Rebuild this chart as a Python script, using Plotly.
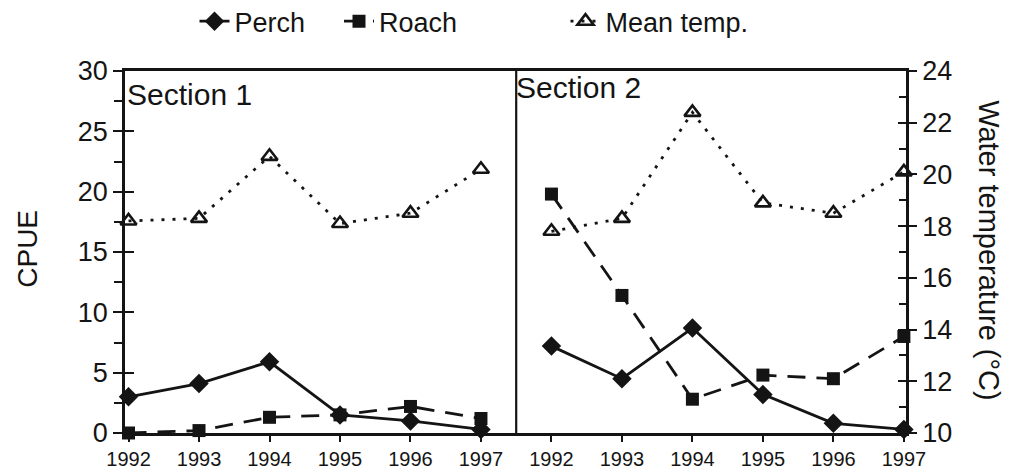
import plotly.graph_objects as go

years = [1992, 1993, 1994, 1995, 1996, 1997]
year_labels = [str(y) for y in years]

# Section 1
s1_perch = [3.0, 4.1, 5.9, 1.5, 1.0, 0.3]
s1_roach = [0.0, 0.2, 1.3, 1.5, 2.2, 1.2]
s1_temp = [18.2, 18.3, 20.7, 18.1, 18.5, 20.2]
# Section 2
s2_perch = [7.2, 4.5, 8.7, 3.2, 0.8, 0.3]
s2_roach = [19.8, 11.4, 2.8, 4.8, 4.5, 8.0]
s2_temp = [17.8, 18.3, 22.4, 18.9, 18.5, 20.1]

FONT = "Liberation Sans, Arial, sans-serif"
INK = "#141414"

x1 = [y - years[0] for y in years]
x2 = [y - years[0] + len(years) for y in years]
tickvals = x1 + x2
ticktext = year_labels + year_labels

fig = go.Figure()

def add(x, y, name, dash, symbol, size, yaxis, legend, show):
    open_sym = symbol.endswith("open")
    fig.add_trace(go.Scatter(
        x=x, y=y, name=name, mode="lines+markers", yaxis=yaxis,
        legend=legend, showlegend=show, legendgroup=name,
        line=dict(color=INK, width=2.8, dash=dash),
        marker=dict(symbol=symbol, size=size, color=INK,
                    line=dict(color=INK, width=2.6 if open_sym else 0)),
        cliponaxis=False,
    ))

for xs, perch, roach, temp, show in [(x1, s1_perch, s1_roach, s1_temp, True),
                                      (x2, s2_perch, s2_roach, s2_temp, False)]:
    add(xs, temp, "Mean temp.", "3px,8px", "triangle-up-open", 14, "y2", "legend3", show)
    add(xs, roach, "Roach", "18px,11px", "square", 13, "y", "legend2", show)
    add(xs, perch, "Perch", "solid", "diamond", 15, "y", "legend", show)

leg_common = dict(orientation="h", yanchor="top", xanchor="left",
                  font=dict(family=FONT, size=27, color=INK),
                  bgcolor="rgba(0,0,0,0)", itemwidth=30)

fig.update_layout(
    width=1011, height=474,
    margin=dict(l=117, r=113, t=63, b=49, autoexpand=False),
    paper_bgcolor="white", plot_bgcolor="white",
    font=dict(family=FONT, color=INK),
    legend=dict(x=0.089, y=1.204, **leg_common),
    legend2=dict(x=0.274, y=1.204, **leg_common),
    legend3=dict(x=0.564, y=1.204, **leg_common),
    xaxis=dict(range=[-0.05, 11.03], tickvals=tickvals, ticktext=ticktext,
               showline=True, linecolor=INK, linewidth=2.6, mirror=True,
               ticks="outside", ticklen=6, tickwidth=1.5, tickcolor=INK,
               showgrid=False, zeroline=False,
               tickfont=dict(family=FONT, size=20, color=INK)),
    yaxis=dict(range=[0, 30], tickvals=[0, 5, 10, 15, 20, 25, 30],
               showline=True, linecolor=INK, linewidth=2.6,
               ticks="outside", ticklen=9, tickwidth=1.8, tickcolor=INK,
               minor=dict(tickvals=[2.5, 7.5, 12.5, 17.5, 22.5, 27.5], ticks="outside",
                          ticklen=8, tickwidth=1.5, tickcolor=INK),
               showgrid=False, zeroline=False,
               tickfont=dict(family=FONT, size=27, color=INK)),
    yaxis2=dict(range=[10, 24], tickvals=[10, 12, 14, 16, 18, 20, 22, 24],
                overlaying="y", side="right", anchor="x",
                showline=True, linecolor=INK, linewidth=2.6,
                ticks="outside", ticklen=8, tickwidth=1.8, tickcolor=INK,
                minor=dict(tickvals=[11, 13, 15, 17, 19, 21, 23], ticks="inside",
                           ticklen=7, tickwidth=1.5, tickcolor=INK),
                showgrid=False, zeroline=False,
                tickfont=dict(family=FONT, size=27, color=INK)),
    yaxis3=dict(range=[0, 30], overlaying="y", side="left", anchor="x",
                tickvals=[5, 10, 15, 20, 25],
                ticks="inside", ticklen=9, tickwidth=1.8, tickcolor=INK,
                showticklabels=False, showgrid=False, zeroline=False, showline=False),
    yaxis4=dict(range=[10, 24], overlaying="y", side="right", anchor="x",
                tickvals=[12, 14, 16, 18, 20, 22],
                ticks="inside", ticklen=8, tickwidth=1.8, tickcolor=INK,
                showticklabels=False, showgrid=False, zeroline=False, showline=False),
    shapes=[dict(type="line", xref="x", yref="paper", x0=5.5, x1=5.5, y0=0, y1=1,
                 line=dict(color=INK, width=2.2))],
    annotations=[
        dict(text="CPUE", textangle=-90, xref="paper", yref="paper", x=-0.125, y=0.51,
             xanchor="center", yanchor="middle",
             showarrow=False, font=dict(family=FONT, size=28, color=INK)),
        dict(text="Water temperature (°C)", textangle=90, xref="paper", yref="paper",
             x=1.106, y=0.503, xanchor="center", yanchor="middle",
             showarrow=False, font=dict(family=FONT, size=29, color=INK)),
        dict(text="Section 1", xref="paper", yref="paper", x=0.0, y=0.935,
             xanchor="left", yanchor="middle", showarrow=False,
             font=dict(family=FONT, size=30, color=INK)),
        dict(text="Section 2", xref="paper", yref="paper", x=0.498, y=0.955,
             xanchor="left", yanchor="middle", showarrow=False,
             font=dict(family=FONT, size=30, color=INK)),
    ],
)

# invisible traces that activate the overlay axes carrying the inner tick halves
fig.add_trace(go.Scatter(x=[0], y=[None], yaxis="y3", showlegend=False, hoverinfo="skip"))
fig.add_trace(go.Scatter(x=[0], y=[None], yaxis="y4", showlegend=False, hoverinfo="skip"))

fig.write_html("out.html")
